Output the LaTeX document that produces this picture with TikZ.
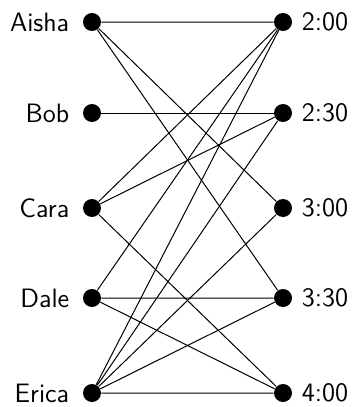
\documentclass[tikz,border=0pt]{standalone}
\begin{document}
\begin{tikzpicture}[x=0.5pt,y=-0.5pt,
  dot/.style={circle,fill=black,inner sep=0pt,minimum size=9pt},
  edge/.style={line width=0.5pt},
  lbl/.style={font=\sffamily\fontsize{13.3}{16}\selectfont, inner sep=0pt}]
\useasboundingbox (0,0) rectangle (355,407);
\node[dot] (a) at (92,22) {};
\node[dot] (b) at (92,113) {};
\node[dot] (c) at (92,208) {};
\node[dot] (d) at (92,298) {};
\node[dot] (e) at (92,393) {};
\node[dot] (t1) at (283,22) {};
\node[dot] (t2) at (283,113) {};
\node[dot] (t3) at (283,208) {};
\node[dot] (t4) at (283,298) {};
\node[dot] (t5) at (283,393) {};
\node[lbl,anchor=east] (la) at ([xshift=-6.5pt]a.west) {Aisha};
\node[lbl,anchor=east] (lb) at ([xshift=-6.5pt]b.west) {Bob};
\node[lbl,anchor=east] (lc) at ([xshift=-6.5pt]c.west) {Cara};
\node[lbl,anchor=east] (ld) at ([xshift=-6.5pt]d.west) {Dale};
\node[lbl,anchor=east] (le) at ([xshift=-6.5pt]e.west) {Erica};
\node[lbl,anchor=west] (l1) at ([xshift=4.5pt]t1.east) {2:00};
\node[lbl,anchor=west] (l2) at ([xshift=4.5pt]t2.east) {2:30};
\node[lbl,anchor=west] (l3) at ([xshift=4.5pt]t3.east) {3:00};
\node[lbl,anchor=west] (l4) at ([xshift=4.5pt]t4.east) {3:30};
\node[lbl,anchor=west] (l5) at ([xshift=4.5pt]t5.east) {4:00};
\draw[edge] (a) -- (t1) (a) -- (t3) (a) -- (t4);
\draw[edge] (b) -- (t2);
\draw[edge] (c) -- (t1) (c) -- (t2) (c) -- (t5);
\draw[edge] (d) -- (t1) (d) -- (t4) (d) -- (t5);
\draw[edge] (e) -- (t1) (e) -- (t2) (e) -- (t3) (e) -- (t4) (e) -- (t5);
\end{tikzpicture}
\end{document}
